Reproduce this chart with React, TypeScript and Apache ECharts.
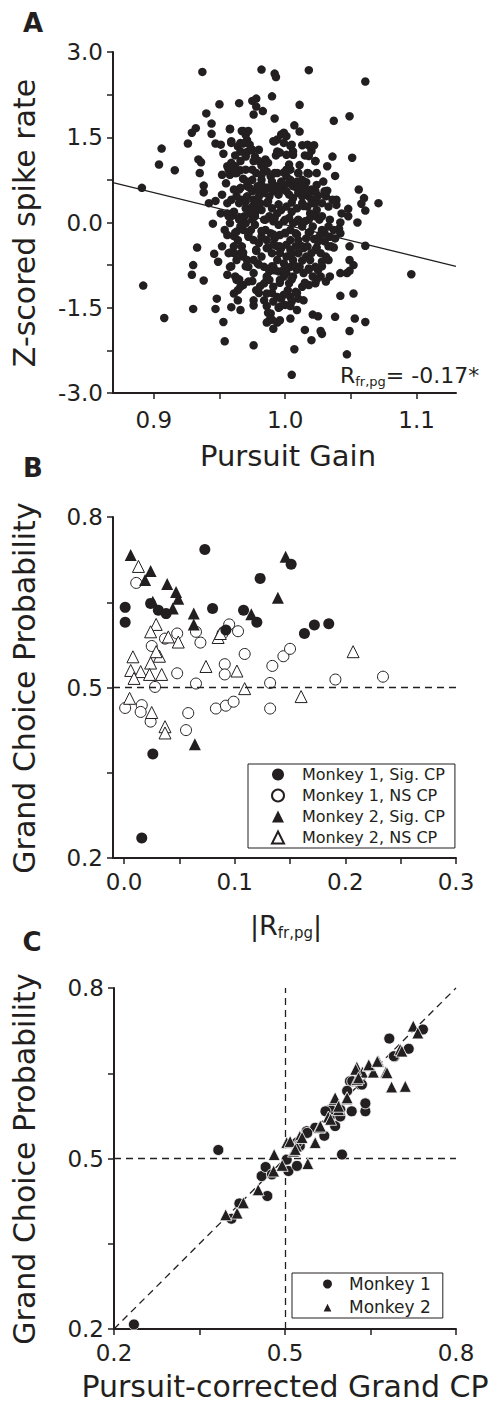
import React, { useEffect, useRef } from "react";
import * as echarts from "echarts";

const FONT = "'DejaVu Sans', Arial, sans-serif";
const INK = "#231f20";

// ---------- Panel A ----------
const gainTicks = [0.9, 0.95, 1.0, 1.05, 1.1];
const gainLabels = [0.9, 1.0, 1.1];
const zTicks = [-3, -2.25, -1.5, -0.75, 0, 0.75, 1.5, 2.25, 3];
const zLabels = [-3, -1.5, 0, 1.5, 3];
const gainRange = [0.869, 1.13];
const fitIntercept = 5.594;
const fitSlope = -5.632;
const gainVsRate: [number, number][] = [
[0.937,2.65],[0.982,2.69],[0.992,2.62],[0.993,2.56],[1.018,2.68],[1.061,2.48],[0.965,2.10],[0.950,2.08],[0.975,2.14],[0.978,2.18],[0.978,2.04],[0.990,2.22],[1.011,2.07],[0.940,1.92],[0.976,1.90],[0.983,1.96],[0.992,1.83],[1.037,1.79],[1.049,1.87],[0.944,1.74],
[0.932,1.66],[0.929,1.58],[0.926,1.39],[0.944,1.56],[0.958,1.65],[0.947,1.39],[0.951,1.37],[0.906,1.30],[0.904,1.02],[0.916,0.92],[0.934,1.11],[0.936,1.06],[0.935,0.87],[0.938,0.65],[0.938,0.53],[0.942,0.34],[0.947,0.38],[0.891,0.61],[0.945,-0.02],[0.933,-0.44],
[0.946,-0.55],[0.949,-0.69],[0.930,-0.75],[0.929,-0.92],[0.938,-1.02],[0.892,-1.11],[0.948,-1.34],[0.930,-1.52],[0.947,-1.52],[0.908,-1.68],[0.953,-1.75],[0.954,-2.09],[0.976,-2.16],[0.959,-1.49],[0.966,-1.54],[0.964,-1.37],[1.005,-2.68],[1.007,-2.23],[1.020,-2.07],[1.015,-1.89],
[1.028,-1.96],[1.027,-1.91],[1.047,-2.32],[1.049,-1.91],[1.053,-1.69],[1.061,-1.75],[1.038,-1.66],[1.021,-1.62],[1.025,-1.65],[1.004,-1.69],[0.991,-1.87],[1.052,-1.25],[1.042,-1.29],[1.096,-0.91],[1.061,-0.41],[1.049,-0.42],[1.055,0.00],[1.048,0.11],[1.048,0.24],[1.061,0.21],
[1.058,0.33],[1.060,0.43],[1.056,0.58],[1.071,0.34],[1.051,1.14],[1.036,1.16],[1.038,0.82],[1.032,0.99],[1.039,0.31],[1.042,0.00],[1.049,-0.66],[1.052,-0.75],[1.047,-0.89],[1.049,-0.85],[1.042,-0.89],[1.034,-0.95],[1.031,-1.04],[1.037,-0.44],[1.035,-0.42],[1.024,-0.44],
[1.020,1.26],[1.019,1.34],[1.011,1.60],[1.007,1.71],[0.999,1.58],[0.997,1.55],[0.999,1.40],[1.004,1.35],[0.991,1.43],[0.994,1.25],[0.993,1.18],[1.006,1.19],[1.023,1.08],[1.015,1.18],[1.011,1.01],[1.003,1.02],[0.967,1.61],[0.971,1.45],[0.959,1.43],[0.964,1.34],
[0.968,1.39],[0.966,1.25],[0.962,1.18],[0.971,1.24],[0.975,1.28],[0.970,1.54],[0.977,1.16],[0.953,1.21],[0.956,0.99],[0.958,0.84],[0.957,0.93],[0.952,0.84],[0.955,0.69],[0.963,0.87],[0.966,0.92],[0.968,0.77],[0.975,0.93],[0.978,0.87],[0.984,0.93],[0.986,0.90],
[0.989,0.81],[0.994,0.87],[0.999,0.88],[1.001,0.81],[1.010,0.87],[1.013,0.75],[1.018,0.86],[1.016,0.71],[1.015,0.62],[1.022,0.55],[1.025,0.47],[1.023,0.41],[1.032,0.56],[1.031,0.46],[1.028,0.34],[1.033,0.28],[1.024,0.22],[1.023,0.11],[1.034,0.05],[1.033,-0.07],
[1.041,-0.11],[1.030,-0.19],[1.028,-0.13],[1.026,-0.25],[1.022,-0.29],[1.019,-0.16],[1.016,-0.28],[1.017,-0.42],[1.020,-0.54],[1.016,-0.60],[1.013,-0.67],[1.019,-0.66],[1.023,-0.78],[1.027,-0.95],[1.023,-1.07],[1.018,-1.10],[1.013,-1.13],[1.008,-1.22],[1.004,-1.31],[1.010,-1.34],
[1.014,-1.37],[0.997,-1.34],[0.996,-1.48],[0.994,-1.31],[0.991,-1.39],[0.986,-1.25],[0.984,-1.37],[0.978,-1.19],[0.981,-1.12],[0.989,-1.60],[0.988,-1.72],[0.994,-1.76],[0.996,-1.72],[0.986,-1.76],[0.976,-1.37],[0.976,-1.46],[0.972,-1.04],[0.968,-1.10],[0.966,-1.13],[0.963,-1.01],
[0.962,-0.95],[0.958,-0.78],[0.956,-0.92],[0.961,-1.25],[0.964,-1.19],[0.968,-0.60],[0.966,-0.54],[0.967,-0.42],[0.964,-0.31],[0.961,-0.24],[0.956,-0.22],[0.952,-0.42],[0.954,-0.13],[0.958,-0.01],[0.960,0.12],[0.961,0.19],[0.965,0.08],[0.970,0.25],[0.973,0.16],[0.975,0.05],
[0.977,-0.04],[0.974,-0.13],[0.972,-0.25],[0.976,-0.31],[0.980,-0.36],[0.978,-0.48],[0.982,-0.60],[0.979,-0.72],[0.984,-0.78],[0.988,-0.86],[0.991,-0.78],[0.995,-0.86],[0.999,-0.95],[0.996,-1.01],[1.001,-0.89],[1.004,-0.78],[1.006,-0.95],[1.003,-1.07],[1.009,-0.83],[1.011,-0.78],
[1.014,-0.89],[1.018,-0.81],[1.006,-0.66],[1.001,-0.60],[0.999,-0.72],[0.994,-0.66],[0.990,-0.54],[0.986,-0.45],[0.994,-0.42],[0.997,-0.45],[1.001,-0.39],[1.004,-0.31],[1.008,-0.19],[1.010,-0.31],[1.013,-0.42],[1.010,-0.54],[1.004,-0.13],[1.000,-0.19],[0.996,-0.22],[0.992,-0.28],
[0.989,-0.19],[0.985,-0.13],[0.982,-0.25],[0.986,-0.31],[0.984,0.05],[0.988,0.11],[0.991,0.02],[0.995,-0.04],[0.999,0.02],[1.003,0.08],[1.006,-0.01],[1.010,0.05],[1.013,-0.07],[1.015,0.02],[1.019,0.16],[1.017,0.28],[1.013,0.34],[1.009,0.25],[1.005,0.19],[1.001,0.28],
[0.997,0.22],[0.994,0.16],[0.990,0.25],[0.986,0.34],[0.982,0.22],[0.979,0.28],[0.976,0.40],[0.980,0.46],[0.984,0.52],[0.988,0.46],[0.991,0.55],[0.995,0.49],[0.999,0.58],[1.003,0.49],[1.006,0.43],[1.010,0.52],[1.013,0.46],[1.006,0.64],[1.003,0.69],[0.999,0.66],
[0.995,0.64],[0.991,0.66],[0.986,0.61],[0.982,0.66],[0.979,0.64],[0.975,0.55],[0.971,0.46],[0.967,0.40],[0.963,0.46],[0.961,0.58],[0.966,0.61],[0.971,0.64],[0.956,0.34],[0.952,0.49],[0.951,0.16],[0.956,0.16],[0.971,0.72],[0.975,0.75],[0.982,0.75],[0.990,0.72],
[0.997,0.72],[1.004,0.75],[1.009,0.72],[1.012,0.64],[1.018,0.46],[1.020,0.40],[1.021,0.34],[1.026,0.05],[1.027,-0.54],[1.031,-0.60],[1.028,-0.69],[1.033,-0.66],[1.025,-0.84],[1.021,-0.95],[1.037,-0.13],[1.043,0.16],[1.039,0.40],[1.029,0.72],[1.024,0.66],[1.020,0.58],
[0.992,-0.84],[1.002,-1.19],[1.000,-1.45],[1.005,-1.39],[1.009,-1.54],[0.991,-1.13],[0.988,-1.01],[0.984,-1.07],[0.986,-0.95],[0.976,-0.89],[0.972,-0.78],[0.976,-0.66],[0.971,-0.66],[0.963,-0.66],[0.961,-0.54],[0.957,-0.54],[0.961,-0.42],[0.968,-0.13],[0.970,-0.01],[0.966,-0.07],
[0.963,-0.16],[0.965,0.34],[0.969,0.11],[0.975,0.28],[0.977,0.16],[1.021,-0.07],[1.025,-0.33],[1.030,-0.33],[1.034,-0.25],[1.038,-0.28],[1.042,-0.19],[1.008,-0.42],[1.005,-0.54],[0.996,-0.54],[0.991,-0.39],[0.981,0.34],[1.024,0.87],[1.004,0.93],[1.006,1.25],[1.001,1.19],
[0.985,1.11],[0.982,1.00],[0.976,1.08],[0.970,1.16],[0.966,1.08],[0.962,0.99],[0.959,1.05],[1.013,1.36],[1.022,1.36],[1.001,1.52],[0.994,1.46],
[0.958,1.64],[0.968,1.61],[0.972,1.61],[0.959,1.40],[0.966,1.40],[0.973,1.37],[0.980,1.28],[0.992,1.43],[0.999,1.55],[1.005,1.37],[1.017,1.37],[1.018,1.17],[1.023,1.08],[0.996,1.23],[0.987,1.05],[0.980,1.08],[0.970,0.93],[0.962,0.87],[0.957,0.96],[0.982,0.84],
[0.992,0.87],[1.001,0.93],[1.010,0.87],[1.017,0.87],[0.980,0.55],[0.987,0.61],[0.994,0.58],[1.001,0.55],[1.009,0.61],[1.015,0.52],[1.023,0.55],[1.030,0.55],[1.036,0.40],[0.973,0.61],[0.965,0.58],[0.959,0.40],[0.970,0.37],[0.978,0.35],[0.987,0.37],[0.995,0.32],
[1.005,0.35],[1.014,0.29],[1.023,0.35],[0.957,0.11],[0.965,0.05],[0.977,0.11],[0.985,0.05],[0.992,0.08],[1.000,0.05],[1.009,0.02],[1.018,0.05],[1.028,0.11],[0.962,-0.18],[0.972,-0.21],[0.982,-0.15],[0.991,-0.21],[1.000,-0.18],[1.009,-0.21],[1.018,-0.18],[1.027,-0.21],
[1.033,-0.42],[1.023,-0.48],[1.014,-0.45],[1.004,-0.48],[0.996,-0.42],[0.987,-0.45],[0.978,-0.50],[0.968,-0.53],[0.958,-0.53],[0.959,-0.77],[0.970,-0.77],[0.980,-0.74],[0.990,-0.77],[0.999,-0.83],[1.008,-0.77],[1.018,-0.83],[1.028,-0.77],[0.965,-1.00],[0.975,-1.03],[0.986,-1.00],
[0.996,-1.06],[1.005,-1.00],[1.015,-1.06],[1.024,-1.00],[0.980,-1.24],[0.990,-1.24],[0.999,-1.27],[1.009,-1.24],[0.986,-1.47],[0.995,-1.50],[1.004,-1.47],[0.990,-1.71],[0.987,-1.59]
];

// ---------- Panel B ----------
const rTicks = [0, 0.05, 0.1, 0.15, 0.2, 0.25, 0.3];
const rLabels = [0, 0.1, 0.2, 0.3];
const cpTicks = [0.2, 0.35, 0.5, 0.65, 0.8];
const cpLabels = [0.2, 0.5, 0.8];
const bNames = ["Monkey 1, Sig. CP", "Monkey 1, NS CP", "Monkey 2, Sig. CP", "Monkey 2, NS CP"];
const m1Sig: [number, number][] = [
[0.001,0.641],[0.001,0.615],[0.073,0.743],[0.024,0.648],[0.031,0.636],[0.038,0.630],[0.080,0.639],[0.123,0.692],[0.151,0.717],[0.108,0.636],[0.120,0.615],[0.092,0.601],[0.163,0.595],[0.172,0.610],[0.185,0.612],[0.026,0.383],[0.016,0.235]
];
const m1NS: [number, number][] = [
[0.011,0.684],[0.001,0.464],[0.016,0.469],[0.015,0.457],[0.024,0.440],[0.025,0.573],[0.028,0.501],[0.037,0.586],[0.048,0.595],[0.048,0.525],[0.065,0.507],[0.065,0.598],[0.069,0.579],[0.058,0.455],[0.056,0.425],[0.083,0.463],[0.092,0.468],[0.099,0.475],[0.091,0.541],[0.091,0.523],[0.095,0.611],[0.103,0.599],[0.109,0.559],[0.132,0.508],[0.132,0.463],[0.134,0.538],[0.144,0.555],[0.150,0.568],[0.191,0.514],[0.234,0.519],[0.089,0.595]
];
const m2Sig: [number, number][] = [
[0.006,0.733],[0.024,0.705],[0.019,0.689],[0.039,0.682],[0.047,0.668],[0.049,0.656],[0.026,0.651],[0.044,0.639],[0.063,0.630],[0.063,0.611],[0.115,0.629],[0.139,0.658],[0.146,0.730],[0.064,0.400]
];
const m2NS: [number, number][] = [
[0.013,0.713],[0.029,0.611],[0.024,0.598],[0.040,0.589],[0.049,0.580],[0.085,0.588],[0.008,0.554],[0.032,0.555],[0.024,0.543],[0.006,0.530],[0.015,0.528],[0.023,0.523],[0.034,0.523],[0.009,0.516],[0.074,0.537],[0.102,0.529],[0.109,0.498],[0.005,0.481],[0.025,0.456],[0.037,0.431],[0.037,0.420],[0.160,0.484],[0.207,0.563],[0.029,0.563],[0.087,0.595]
];

// ---------- Panel C ----------
const cNames = ["Monkey 1", "Monkey 2"];
const m1Corrected: [number, number][] = [
[0.235,0.208],[0.383,0.515],[0.600,0.507],[0.406,0.394],[0.420,0.421],[0.469,0.434],[0.459,0.469],[0.466,0.485],[0.477,0.472],[0.506,0.478],[0.521,0.487],[0.538,0.548],[0.569,0.540],[0.588,0.557],[0.579,0.574],[0.617,0.583],[0.641,0.583],[0.641,0.597],[0.614,0.636],[0.632,0.630],[0.683,0.711],[0.692,0.679],[0.717,0.693],[0.742,0.727],[0.503,0.498],[0.526,0.522],[0.597,0.586],
[0.618,0.636],[0.635,0.630],[0.609,0.619],[0.580,0.586],[0.597,0.574],[0.571,0.583],[0.553,0.554],[0.539,0.545],[0.521,0.528],[0.691,0.680]
];
const m2Corrected: [number, number][] = [
[0.396,0.401],[0.416,0.404],[0.427,0.422],[0.453,0.445],[0.480,0.478],[0.481,0.507],[0.495,0.488],[0.540,0.491],[0.503,0.528],[0.515,0.513],[0.526,0.539],[0.553,0.528],[0.560,0.555],[0.576,0.573],[0.586,0.604],[0.608,0.605],[0.626,0.661],[0.636,0.652],[0.646,0.664],[0.655,0.652],[0.664,0.671],[0.677,0.652],[0.687,0.626],[0.711,0.627],[0.702,0.692],[0.725,0.733],[0.733,0.721],[0.626,0.639],[0.594,0.586],[0.520,0.522],
[0.624,0.657],[0.647,0.665],[0.662,0.671],[0.629,0.642],[0.588,0.607],[0.609,0.607],[0.594,0.592],[0.580,0.569],[0.562,0.557],[0.530,0.537],[0.509,0.530],[0.518,0.516],[0.679,0.651],[0.705,0.689]
];

const fmt1 = (v: number) => v.toFixed(1);

function valueAxis(gridIndex: number, min: number, max: number, ticks: number[], labels: number[], margin: number) {
  return {
    type: "value",
    gridIndex,
    min,
    max,
    axisLine: { show: true, onZero: false, lineStyle: { color: INK, width: 2 } },
    axisTick: { show: true, inside: false, length: 6, customValues: ticks, lineStyle: { color: INK, width: 1.5 } },
    axisLabel: { show: true, customValues: labels, formatter: fmt1, margin, color: INK, fontFamily: FONT, fontSize: 23 },
    splitLine: { show: false },
  };
}

const dash = { type: [7, 5], color: INK, width: 1.3 };

function text(x: number, y: number, t: string, font: string, rotation = 0) {
  return {
    type: "text",
    x,
    y,
    rotation,
    silent: true,
    style: { text: t, font, fill: INK, textAlign: "center", textVerticalAlign: "middle" },
  };
}

export default function App() {
  const ref = useRef<HTMLDivElement>(null);
  useEffect(() => {
    if (!ref.current) return;
    const chart = echarts.init(ref.current, undefined, { renderer: "svg" });
    const fitLine = gainRange.map((g) => [g, fitIntercept + fitSlope * g]);
    const option: any = {
      animation: false,
      backgroundColor: "#fff",
      textStyle: { fontFamily: FONT, color: INK },
      grid: [
        { left: 113, top: 52, width: 343, height: 341, outerBoundsMode: "none" },
        { left: 113, top: 517, width: 343, height: 341, outerBoundsMode: "none" },
        { left: 114, top: 988, width: 342, height: 341, outerBoundsMode: "none" },
      ],
      xAxis: [
        valueAxis(0, gainRange[0], gainRange[1], gainTicks, gainLabels, 15),
        valueAxis(1, -0.01, 0.3, rTicks, rLabels, 12),
        valueAxis(2, 0.2, 0.8, cpTicks, cpLabels, 12),
      ],
      yAxis: [
        valueAxis(0, -3, 3, zTicks, zLabels, 10),
        valueAxis(1, 0.2, 0.8, cpTicks, cpLabels, 10),
        valueAxis(2, 0.2, 0.8, cpTicks, cpLabels, 10),
      ],
      legend: [
        {
          data: bNames,
          orient: "vertical",
          left: 248,
          top: 764,
          padding: [2, 10, 2, 23],
          itemWidth: 12,
          itemHeight: 12,
          itemGap: 4,
          borderColor: INK,
          borderWidth: 1,
          selectedMode: false,
          textStyle: { fontFamily: FONT, fontSize: 16, color: INK, lineHeight: 17, padding: [0, 0, 0, 13] },
        },
        {
          data: cNames,
          orient: "vertical",
          left: 292,
          top: 1273,
          padding: [1, 12, 1, 29],
          itemWidth: 11,
          itemHeight: 11,
          itemGap: 3,
          borderColor: INK,
          borderWidth: 1,
          selectedMode: false,
          textStyle: { fontFamily: FONT, fontSize: 17, color: INK, lineHeight: 20, padding: [0, 0, 0, 11] },
        },
      ],
      series: [
        {
          type: "line",
          xAxisIndex: 0,
          yAxisIndex: 0,
          data: fitLine,
          symbol: "none",
          lineStyle: { color: INK, width: 1.3 },
          z: 1,
        },
        {
          type: "scatter",
          xAxisIndex: 0,
          yAxisIndex: 0,
          data: gainVsRate,
          symbol: "circle",
          symbolSize: 8.5,
          itemStyle: { color: INK, opacity: 1 },
          z: 2,
        },
        {
          name: bNames[0],
          type: "scatter",
          xAxisIndex: 1,
          yAxisIndex: 1,
          data: m1Sig,
          symbol: "circle",
          symbolSize: 11,
          itemStyle: { color: INK, opacity: 1 },
          markLine: {
            silent: true,
            symbol: ["none", "none"],
            label: { show: false },
            lineStyle: dash,
            data: [{ yAxis: 0.5 }],
          },
          z: 3,
        },
        {
          name: bNames[1],
          type: "scatter",
          xAxisIndex: 1,
          yAxisIndex: 1,
          data: m1NS,
          symbol: "circle",
          symbolSize: 11,
          itemStyle: { color: "#fff", borderColor: INK, borderWidth: 1, opacity: 1 },
          z: 2,
        },
        {
          name: bNames[2],
          type: "scatter",
          xAxisIndex: 1,
          yAxisIndex: 1,
          data: m2Sig,
          symbol: "triangle",
          symbolSize: 12,
          itemStyle: { color: INK, opacity: 1 },
          z: 3,
        },
        {
          name: bNames[3],
          type: "scatter",
          xAxisIndex: 1,
          yAxisIndex: 1,
          data: m2NS,
          symbol: "triangle",
          symbolSize: 12,
          itemStyle: { color: "#fff", borderColor: INK, borderWidth: 1, opacity: 1 },
          z: 2,
        },
        {
          name: cNames[0],
          type: "scatter",
          xAxisIndex: 2,
          yAxisIndex: 2,
          data: m1Corrected,
          symbol: "circle",
          symbolSize: 11,
          itemStyle: { color: INK, borderColor: "#fff", borderWidth: 0.8, opacity: 1 },
          markLine: {
            silent: true,
            symbol: ["none", "none"],
            label: { show: false },
            lineStyle: dash,
            z: 1,
            data: [
              { xAxis: 0.5 },
              { yAxis: 0.5 },
              [{ coord: [0.2, 0.2] }, { coord: [0.8, 0.8] }],
            ],
          },
          z: 3,
        },
        {
          name: cNames[1],
          type: "scatter",
          xAxisIndex: 2,
          yAxisIndex: 2,
          data: m2Corrected,
          symbol: "triangle",
          symbolSize: 12,
          itemStyle: { color: INK, borderColor: "#fff", borderWidth: 0.8, opacity: 1 },
          z: 3,
        },
      ],
      graphic: [
        text(33, 23, "A", `bold 26px ${FONT}`),
        text(33, 468, "B", `bold 26px ${FONT}`),
        text(32, 942, "C", `bold 26px ${FONT}`),
        text(24, 223, "Z-scored spike rate", `30px ${FONT}`, Math.PI / 2),
        text(24, 688, "Grand Choice Probability", `30px ${FONT}`, Math.PI / 2),
        text(24, 1159, "Grand Choice Probability", `30px ${FONT}`, Math.PI / 2),
        text(288, 456, "Pursuit Gain", `29px ${FONT}`),
        text(285, 1386, "Pursuit-corrected Grand CP", `30px ${FONT}`),
        {
          type: "text",
          x: 286,
          y: 925,
          silent: true,
          style: {
            text: "{m||R}{s|fr,pg}{m||}",
            textAlign: "center",
            textVerticalAlign: "middle",
            fill: INK,
            rich: {
              m: { fontFamily: FONT, fontSize: 27, lineHeight: 30, fill: INK, color: INK },
              s: { fontFamily: FONT, fontSize: 15, lineHeight: 14, verticalAlign: "bottom", fill: INK, color: INK },
            },
          },
        },
        {
          type: "text",
          x: 340,
          y: 375,
          silent: true,
          style: {
            text: "{m|R}{s|fr,pg}{m|= -0.17*}",
            textAlign: "left",
            textVerticalAlign: "middle",
            fill: INK,
            rich: {
              m: { fontFamily: FONT, fontSize: 22, lineHeight: 26, fill: INK, color: INK },
              s: { fontFamily: FONT, fontSize: 13, lineHeight: 12, verticalAlign: "bottom", fill: INK, color: INK },
            },
          },
        },
      ],
    };
    chart.setOption(option);
    return () => chart.dispose();
  }, []);
  return (
    <div
      ref={ref}
      style={{ position: "absolute", left: 0, top: 0, width: 495, height: 1407, background: "#fff" }}
    />
  );
}
